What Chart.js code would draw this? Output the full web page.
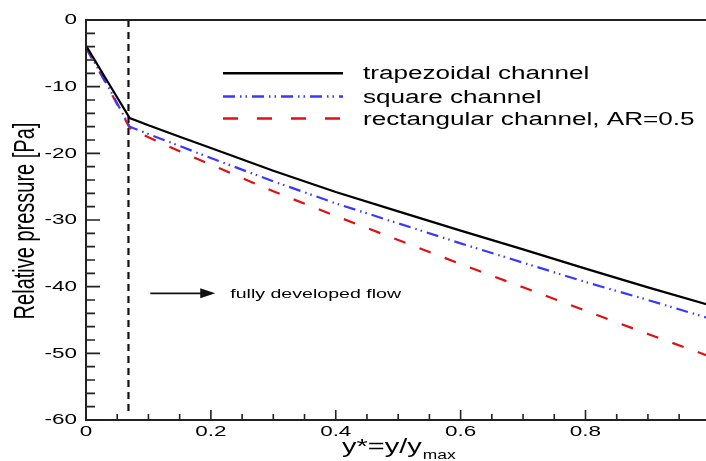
<!DOCTYPE html>
<html>
<head>
<meta charset="utf-8">
<script src="https://cdn.jsdelivr.net/npm/chart.js@4/dist/chart.umd.min.js"></script>
<style>
  html, body { margin: 0; padding: 0; background: #fff; }
  #wrap { width: 706px; height: 461px; position: relative; }
</style>
</head>
<body>
<div id="wrap"><canvas id="c"></canvas></div>
<script>
'use strict';
// values
const xPos = [0, 0.035, 0.07, 0.1, 0.15, 0.2, 0.3, 0.4, 0.5, 0.6, 0.7, 0.8, 0.9, 1.0];
const trapezoidal = [-3.85, -9.3, -14.7, -15.8, -17.5, -19.2, -22.6, -25.8, -28.7, -31.6, -34.4, -37.3, -40.1, -42.8];
const square      = [-4.1, -9.9, -16.0, -17.1, -18.9, -20.7, -24.2, -27.5, -30.5, -33.5, -36.4, -39.3, -42.0, -44.8];
const rectangular = [-4.2, -10.0, -16.2, -17.6, -19.7, -21.7, -25.7, -29.4, -33.0, -36.6, -40.1, -43.6, -47.1, -50.5];
const seriesNames = ['trapezoidal channel', 'square channel', 'rectangular channel, AR=0.5'];

const devLineX = 0.068;
const devLineY = [0, -59];

const xTicks = [0, 0.2, 0.4, 0.6, 0.8];
const xMinorStep = 0.05;
const yTicks = [0, -10, -20, -30, -40, -50, -60];
const yMinorStep = 2;

const X_MIN = 0, X_MAX = 0.993, Y_MIN = -60, Y_MAX = 0;

const SX = 1.45; // the figure is stretched sideways
const FONT = '"Liberation Sans", Arial, sans-serif';
const TEXT = '#000';

const STYLE = [
  { color: '#000000', dash: [],                      legendDash: [],                      width: 2.2 },
  { color: '#3838ff', dash: [12, 5, 1.5, 4, 1.5, 5], legendDash: [12, 5, 1.5, 4, 1.5, 5], width: 2.2 },
  { color: '#e01010', dash: [12, 15],                legendDash: [15, 19],                width: 2.2 },
];

function pts(ys) { return xPos.map((x, i) => ({ x, y: ys[i] })); }

function sText(ctx, str, x, y, align, sx) {
  ctx.save();
  ctx.translate(x, y);
  ctx.scale(sx, 1);
  ctx.textAlign = align;
  ctx.fillText(str, 0, 0);
  ctx.restore();
}

const decor = {
  id: 'decor',
  afterDraw(chart) {
    const ctx = chart.ctx;
    const a = chart.chartArea;
    const xs = chart.scales.x, ys = chart.scales.y;
    ctx.save();

    // frame: left, bottom, top
    ctx.strokeStyle = '#222';
    ctx.lineWidth = 2;
    ctx.beginPath();
    ctx.moveTo(a.right, a.top); ctx.lineTo(a.left, a.top);
    ctx.lineTo(a.left, a.bottom); ctx.lineTo(a.right, a.bottom);
    ctx.stroke();

    // inward ticks
    ctx.lineWidth = 1.6;
    ctx.beginPath();
    for (let v = X_MIN; v <= X_MAX + 1e-9; v += xMinorStep) {
      const px = xs.getPixelForValue(v);
      const major = xTicks.some(t => Math.abs(t - v) < 1e-6);
      const len = major ? 10 : 6;
      ctx.moveTo(px, a.bottom); ctx.lineTo(px, a.bottom - len);
    }
    for (let v = Y_MIN; v <= Y_MAX + 1e-9; v += yMinorStep) {
      const py = ys.getPixelForValue(v);
      const major = yTicks.some(t => Math.abs(t - v) < 1e-6);
      const len = major ? 14 : 9;
      ctx.moveTo(a.left, py); ctx.lineTo(a.left + len, py);
    }
    ctx.stroke();

    // tick labels
    ctx.fillStyle = TEXT;
    ctx.font = '15.5px ' + FONT;
    ctx.textBaseline = 'middle';
    yTicks.forEach(t => sText(ctx, String(t), a.left - 9, ys.getPixelForValue(t), 'right', SX));
    xTicks.forEach(t => sText(ctx, String(t), xs.getPixelForValue(t), a.bottom + 12, 'center', SX));

    // axis titles
    ctx.textBaseline = 'alphabetic';
    const xt = 'y*=y/y', sub = 'max';
    ctx.font = '20px ' + FONT;
    const w1 = ctx.measureText(xt).width * SX;
    sText(ctx, xt, 342, 453, 'left', SX);
    ctx.font = '12px ' + FONT;
    sText(ctx, sub, 342 + w1 + 1, 459, 'left', SX);

    ctx.save();
    ctx.font = '20px ' + FONT;
    ctx.translate(34, 221);
    ctx.scale(1.45, 1);
    ctx.rotate(-Math.PI / 2);
    ctx.textAlign = 'center';
    ctx.fillText('Relative pressure [Pa]', 0, 0);
    ctx.restore();

    // legend
    const ly = [73.3, 96.5, 118.5];
    STYLE.forEach((s, i) => {
      ctx.save();
      ctx.strokeStyle = s.color;
      ctx.lineWidth = s.width + 0.3;
      ctx.setLineDash(s.legendDash);
      ctx.beginPath();
      ctx.moveTo(223, ly[i]); ctx.lineTo(343, ly[i]);
      ctx.stroke();
      ctx.restore();
      ctx.fillStyle = TEXT;
      ctx.font = '18px ' + FONT;
      sText(ctx, seriesNames[i], 363, ly[i] + 6, 'left', SX);
    });

    // annotation arrow
    const ay = ys.getPixelForValue(-41);
    const ax0 = xs.getPixelForValue(0.103), ax1 = xs.getPixelForValue(0.207);
    ctx.strokeStyle = '#111';
    ctx.fillStyle = '#111';
    ctx.lineWidth = 1.8;
    ctx.beginPath();
    ctx.moveTo(ax0, ay); ctx.lineTo(ax1 - 12, ay);
    ctx.stroke();
    ctx.beginPath();
    ctx.moveTo(ax1, ay); ctx.lineTo(ax1 - 15, ay - 5); ctx.lineTo(ax1 - 15, ay + 5);
    ctx.closePath(); ctx.fill();
    ctx.fillStyle = TEXT;
    ctx.font = '13.5px ' + FONT;
    sText(ctx, 'fully developed flow', xs.getPixelForValue(0.231), ay + 5, 'left', SX);

    ctx.restore();
  }
};

new Chart(document.getElementById('c'), {
  type: 'line',
  data: {
    datasets: [
      { data: pts(trapezoidal), borderColor: STYLE[0].color, borderWidth: STYLE[0].width, borderDash: STYLE[0].dash },
      { data: pts(square),      borderColor: STYLE[1].color, borderWidth: STYLE[1].width, borderDash: STYLE[1].dash },
      { data: pts(rectangular), borderColor: STYLE[2].color, borderWidth: STYLE[2].width, borderDash: STYLE[2].dash },
      { data: devLineY.map(y => ({ x: devLineX, y })), borderColor: '#111', borderWidth: 2.2, borderDash: [7, 5] },
    ],
  },
  options: {
    responsive: true, maintainAspectRatio: false,
    animation: false,
    layout: { padding: { left: 86, top: 20, right: 0, bottom: 41 } },
    elements: { point: { radius: 0 }, line: { tension: 0, fill: false } },
    plugins: { legend: { display: false }, tooltip: { enabled: false } },
    scales: {
      x: { type: 'linear', min: X_MIN, max: X_MAX, display: false },
      y: { type: 'linear', min: Y_MIN, max: Y_MAX, display: false },
    },
  },
  plugins: [decor],
});
</script>
</body>
</html>
